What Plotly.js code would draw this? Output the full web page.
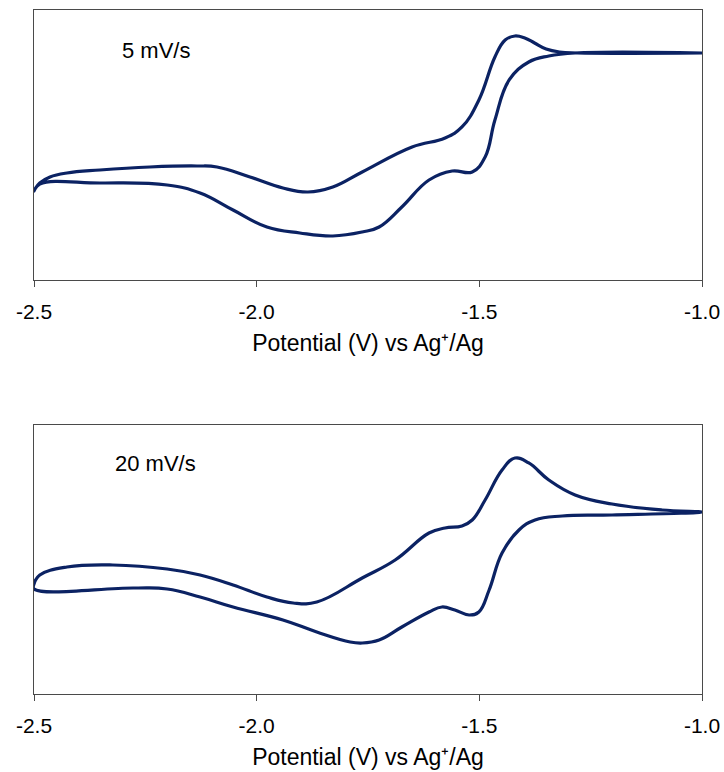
<!DOCTYPE html>
<html>
<head>
<meta charset="utf-8">
<script src="https://cdn.plot.ly/plotly-3.0.1.min.js"></script>
<style>html,body{margin:0;padding:0;background:#fff;}#chart{width:724px;height:772px;}</style>
</head>
<body>
<div id="chart"></div>
<script>
// 5 mV/s : cathodic scan (-1.0 -> -2.5) then return scan (-2.5 -> -1.0); current in arbitrary units
const potential5 = [-1.000, -1.285, -1.344, -1.389, -1.433, -1.465, -1.487, -1.516, -1.561, -1.613, -1.674, -1.725, -1.763, -1.829, -1.903, -1.977, -2.053, -2.127, -2.201, -2.352, -2.487, -2.500,
  -2.487, -2.464, -2.426, -2.352, -2.240, -2.134, -2.089, -2.015, -1.941, -1.885, -1.829, -1.763, -1.651, -1.577, -1.539, -1.501, -1.465, -1.442, -1.420, -1.398, -1.376, -1.350, -1.320, -1.280, -1.000];
const current5 = [227, 227, 224, 218, 200, 160, 123, 108, 109, 100, 73, 53, 48, 44, 47, 53, 70, 87, 95, 97, 96, 89,
  97, 103, 107, 110, 113, 114, 113, 103, 92, 88, 93, 108, 133, 142, 153, 180, 223, 240, 244, 242, 237, 231, 228, 227, 227];

// 20 mV/s
const potential20 = [-1.000, -1.202, -1.314, -1.375, -1.411, -1.449, -1.478, -1.501, -1.523, -1.555, -1.584, -1.613, -1.674, -1.725, -1.763, -1.790, -1.865, -1.941, -2.053, -2.127, -2.201, -2.275, -2.500,
  -2.500, -2.487, -2.426, -2.323, -2.201, -2.127, -2.053, -1.977, -1.918, -1.865, -1.763, -1.689, -1.613, -1.577, -1.539, -1.516, -1.487, -1.449, -1.420, -1.389, -1.344, -1.285, -1.202, -1.090, -1.000];
const current20 = [182, 179, 178, 174, 164, 141, 104, 82, 79, 84, 87, 82, 67, 54, 51, 52, 62, 74, 87, 97, 105, 106, 105,
  110, 119, 127, 129, 125, 119, 109, 97, 91, 92, 116, 134, 161, 166, 168, 174, 194, 224, 236, 231, 214, 199, 190, 184, 182];

const tickValues = [-2.5, -2.0, -1.5, -1.0];
const tickLabels = ["-2.5", "-2.0", "-1.5", "-1.0"];
const panelLabels = ["5 mV/s", "20 mV/s"];
const xTitle = "Potential (V) vs Ag\u207A/Ag";

const lineColor = "#0b2263";
const frameColor = "#4a4a4a";
const font = "Liberation Sans, Arial, sans-serif";

const traces = [
  {x: potential5, y: current5, xaxis: "x", yaxis: "y", mode: "lines",
   line: {color: lineColor, width: 3.2, shape: "spline", smoothing: 1.2}, hoverinfo: "skip"},
  {x: potential20, y: current20, xaxis: "x2", yaxis: "y2", mode: "lines",
   line: {color: lineColor, width: 3.2, shape: "spline", smoothing: 1.2}, hoverinfo: "skip"}
];

function xAxis(anchor) {
  return {
    anchor: anchor, range: [-2.5, -1.0], tickmode: "array", tickvals: tickValues, ticktext: tickLabels,
    ticks: "outside", ticklen: 6, tickcolor: frameColor, tickwidth: 1, ticklabelstandoff: 7,
    showline: true, linecolor: frameColor, linewidth: 1, mirror: true,
    showgrid: false, zeroline: false, tickfont: {family: font, size: 21, color: "#000"},
    title: {text: xTitle, font: {family: font, size: 23, color: "#000"}, standoff: 12},
    automargin: false, fixedrange: true
  };
}
function yAxis(anchor, domain, range) {
  return {
    anchor: anchor, domain: domain, range: range, showticklabels: false, ticks: "",
    showline: true, linecolor: frameColor, linewidth: 1, mirror: true,
    showgrid: false, zeroline: false, automargin: false, fixedrange: true
  };
}

const layout = {
  width: 724, height: 772,
  margin: {l: 34, r: 22, t: 10, b: 78},
  paper_bgcolor: "#fff", plot_bgcolor: "#fff",
  showlegend: false,
  font: {family: font, color: "#000"},
  xaxis: xAxis("y"),
  yaxis: yAxis("x", [0.6053, 1], [0, 270]),
  xaxis2: xAxis("y2"),
  yaxis2: yAxis("x2", [0, 0.3933], [0, 269]),
  annotations: [
    {xref: "x", yref: "y", x: -2.307, y: 230, text: panelLabels[0], showarrow: false,
     xanchor: "left", yanchor: "middle", font: {family: font, size: 22, color: "#000"}},
    {xref: "x2", yref: "y2", x: -2.323, y: 230, text: panelLabels[1], showarrow: false,
     xanchor: "left", yanchor: "middle", font: {family: font, size: 22, color: "#000"}}
  ]
};

Plotly.newPlot("chart", traces, layout, {staticPlot: true, displayModeBar: false});
</script>
</body>
</html>
